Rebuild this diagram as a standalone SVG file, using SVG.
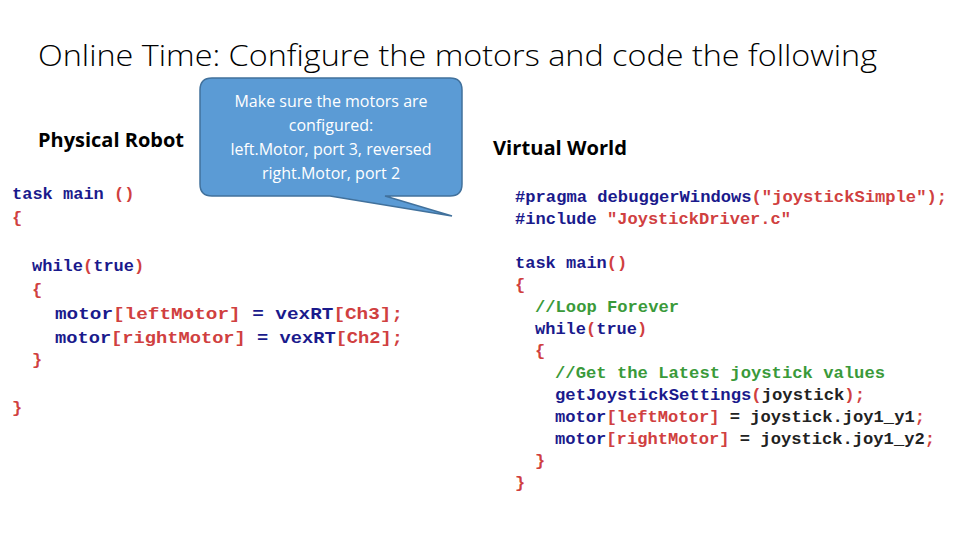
<svg xmlns="http://www.w3.org/2000/svg" width="960" height="540" viewBox="0 0 960 540">
<style>
.h{font-family:"Open Sans","Liberation Sans",sans-serif;font-weight:bold;font-size:19px;fill:#000}
.c{font-family:"Liberation Mono","Courier New",monospace;font-size:17px;font-weight:bold}
.k{fill:#1a1a8c}.p{fill:#d04040}.g{fill:#3a9a3a}.b{fill:#222}
</style>
<rect width="960" height="540" fill="#fff"/>
<text x="38" y="66" font-size="30" textLength="839" lengthAdjust="spacingAndGlyphs" style="font-family:'Open Sans','Liberation Sans',sans-serif;font-weight:300;fill:#000">Online Time: Configure the motors and code the following</text>
<text class="h" x="38" y="147" textLength="146" lengthAdjust="spacingAndGlyphs">Physical Robot</text>
<text class="h" x="493" y="155" textLength="134" lengthAdjust="spacingAndGlyphs">Virtual World</text>
<g id="callout">
<path d="M212,78 H450 Q462,78 462,90 V184 Q462,196 450,196 H385 L452,216 L330,196 H212 Q200,196 200,184 V90 Q200,78 212,78 Z" fill="#5b9bd5" stroke="#41719c" stroke-width="1.5"/>
<g font-family="'Open Sans','Liberation Sans',sans-serif" font-size="16" fill="#fff" text-anchor="middle">
<text x="331" y="107">Make sure the motors are</text>
<text x="331" y="131">configured:</text>
<text x="331" y="155">left.Motor, port 3, reversed</text>
<text x="331" y="179">right.Motor, port 2</text>
</g>
</g>
<g id="code-left" class="c">
<text x="12" y="199"><tspan class="k">task main </tspan><tspan class="p">()</tspan></text>
<text x="12" y="223" class="p">{</text>
<text x="32" y="271"><tspan class="k">while</tspan><tspan class="p">(</tspan><tspan class="k">true</tspan><tspan class="p">)</tspan></text>
<text x="32" y="295" class="p">{</text>
<text x="55" y="319" textLength="348" lengthAdjust="spacingAndGlyphs"><tspan class="k">motor</tspan><tspan class="p">[leftMotor]</tspan><tspan class="k">  = vexRT</tspan><tspan class="p">[Ch3];</tspan></text>
<text x="55" y="343" textLength="348" lengthAdjust="spacingAndGlyphs"><tspan class="k">motor</tspan><tspan class="p">[rightMotor]</tspan><tspan class="k"> = vexRT</tspan><tspan class="p">[Ch2];</tspan></text>
<text x="32" y="365" class="p">}</text>
<text x="12" y="413" class="p">}</text>
</g>
<g id="code-right" class="c" font-size="16">
<text x="515" y="202" textLength="432" lengthAdjust="spacingAndGlyphs"><tspan class="k">#pragma debuggerWindows</tspan><tspan class="p">("joystickSimple");</tspan></text>
<text x="515" y="224" textLength="276" lengthAdjust="spacingAndGlyphs"><tspan class="k">#include </tspan><tspan class="p">"JoystickDriver.c"</tspan></text>
<text x="515" y="268"><tspan class="k">task main</tspan><tspan class="p">()</tspan></text>
<text x="515" y="290" class="p">{</text>
<text x="535" y="312" class="g" textLength="144" lengthAdjust="spacingAndGlyphs">//Loop Forever</text>
<text x="535" y="334"><tspan class="k">while</tspan><tspan class="p">(</tspan><tspan class="k">true</tspan><tspan class="p">)</tspan></text>
<text x="535" y="356" class="p">{</text>
<text x="555" y="378" class="g" textLength="330" lengthAdjust="spacingAndGlyphs">//Get the Latest joystick values</text>
<text x="555" y="400" textLength="310" lengthAdjust="spacingAndGlyphs"><tspan class="k">getJoystickSettings</tspan><tspan class="p">(</tspan><tspan class="b">joystick</tspan><tspan class="p">);</tspan></text>
<text x="555" y="422" textLength="370" lengthAdjust="spacingAndGlyphs"><tspan class="k">motor</tspan><tspan class="p">[leftMotor]</tspan><tspan class="b"> = joystick.joy1_y1</tspan><tspan class="p">;</tspan></text>
<text x="555" y="444" textLength="380" lengthAdjust="spacingAndGlyphs"><tspan class="k">motor</tspan><tspan class="p">[rightMotor]</tspan><tspan class="b"> = joystick.joy1_y2</tspan><tspan class="p">;</tspan></text>
<text x="535" y="466" class="p">}</text>
<text x="515" y="488" class="p">}</text>
</g>
</svg>
